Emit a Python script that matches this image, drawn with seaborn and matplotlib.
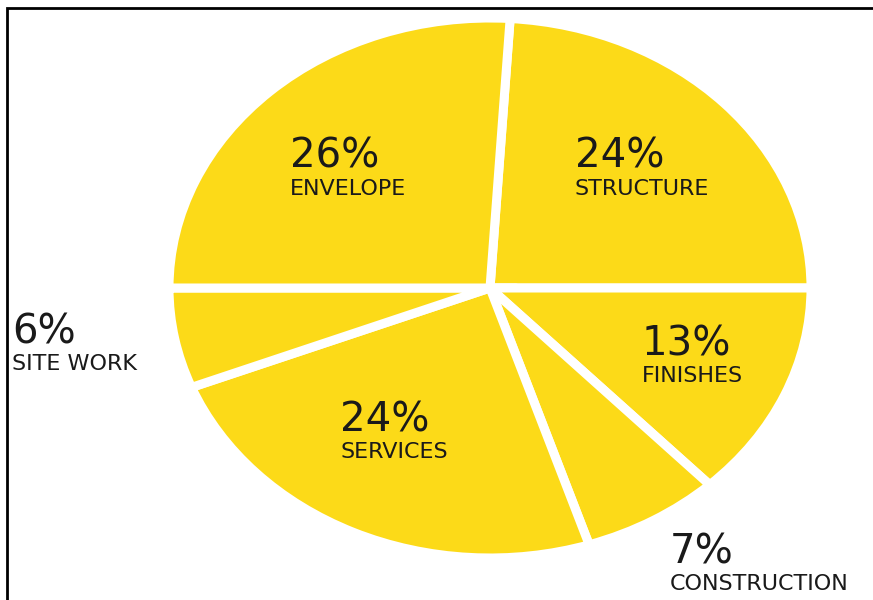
import matplotlib
matplotlib.use("Agg")
import matplotlib.pyplot as plt
import matplotlib.patches as mpatches
import seaborn as sns

# Cost breakdown, clockwise from the top
categories = ["STRUCTURE", "FINISHES", "CONSTRUCTION", "SERVICES", "SITE WORK", "ENVELOPE"]
shares = [24, 13, 7, 24, 6, 26]

# Label anchors (pixels from the top-left corner): percent line and name line
label_left = [575, 642, 670, 340, 12, 290]
pct_y = [157, 345, 553, 421, 332, 157]
name_y = [189, 376, 584, 452, 364, 189]

sns.set_theme(style="white")
plt.rcParams["font.family"] = ["DejaVu Sans"]

W, H = 873, 600
fig = plt.figure(figsize=(W / 100, H / 100), dpi=100)
ax = fig.add_axes([0, 0, 1, 1])

yellow = sns.color_palette(["#FCDA18"])[0]
ax.pie(
    shares,
    startangle=86.4,
    counterclock=False,
    colors=[yellow] * len(shares),
    wedgeprops=dict(edgecolor="white", linewidth=6.5),
    center=(0, 0),
    radius=1,
)

# Stretch the unit pie into an ellipse: 321 px across, 270 px tall per unit
cx, cy, rx, ry = 490, 288, 321, 270
ax.set_aspect("auto")
ax.set_xlim(-cx / rx, (W - cx) / rx)
ax.set_ylim(-(H - cy) / ry, cy / ry)
ax.axis("off")

txt = "#1a1a1a"
for name, val, x, yp, yn in zip(categories, shares, label_left, pct_y, name_y):
    fig.text(x / W, 1 - yp / H, f"{val}%", ha="left", va="center",
             fontsize=29, color=txt)
    fig.text(x / W, 1 - yn / H, name, ha="left", va="center",
             fontsize=16, color=txt)

# Frame around the figure
fig.patches.append(mpatches.Rectangle((7 / W, -0.05), 1.1, 1 - 8 / H + 0.05,
                                      transform=fig.transFigure, fill=False,
                                      edgecolor="black", linewidth=2))

fig.savefig("out.png", dpi=100)
